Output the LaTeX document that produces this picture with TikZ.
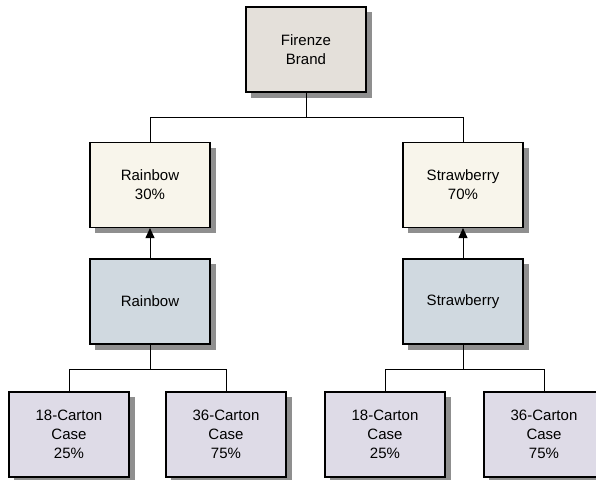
\documentclass[tikz,border=0pt]{standalone}
\usepackage{fontspec}
\setmainfont{Liberation Sans}
\usetikzlibrary{arrows.meta}
\definecolor{topc}{HTML}{E4E0DA}
\definecolor{yelc}{HTML}{F8F5EB}
\definecolor{bluc}{HTML}{D0D9E0}
\definecolor{lavc}{HTML}{DEDBE7}
\definecolor{shadc}{HTML}{8F8F8F}
\tikzset{
  box/.style={draw=black, line width=1.1pt, minimum width=120pt, minimum height=85pt,
    inner sep=0pt, align=center, font=\fontsize{15}{19}\selectfont},
  shad/.style={fill=shadc, draw=none},
  conn/.style={draw=black, line width=0.9pt},
  arr/.style={conn, -{Triangle[length=10pt,width=9pt]}}
}
\newcommand{\mybox}[5]{%
  \fill[shad] ({#2-55},{#3-37.5}) rectangle ({#2+65.5},{#3+48});
  \node[box, fill=#4] (#1) at (#2,#3) {#5};}
\begin{document}
\begin{tikzpicture}[x=1pt,y=-1pt]
\useasboundingbox (0,0) rectangle (596,479);
\mybox{top}{306}{49.5}{topc}{Firenze\\Brand}
\mybox{r30}{150}{185}{yelc}{Rainbow\\30\%}
\mybox{s70}{463}{185}{yelc}{Strawberry\\70\%}
\mybox{rb}{150}{301.5}{bluc}{Rainbow}
\mybox{sb}{463}{301.5}{bluc}{Strawberry}
\mybox{r18}{69}{434.5}{lavc}{18-Carton\\Case\\25\%}
\mybox{r36}{226}{434.5}{lavc}{36-Carton\\Case\\75\%}
\mybox{s18}{385}{434.5}{lavc}{18-Carton\\Case\\25\%}
\mybox{s36}{544}{434.5}{lavc}{36-Carton\\Case\\75\%}
\coordinate (j1) at (306,117);
\coordinate (j2) at (150,369);
\coordinate (j3) at (463,369);
\draw[conn] (top.south) -- (j1) -| (r30.north);
\draw[conn] (j1) -| (s70.north);
\draw[arr] (rb.north) -- (r30.south);
\draw[arr] (sb.north) -- (s70.south);
\draw[conn] (rb.south) -- (j2) -| (r18.north);
\draw[conn] (j2) -| (r36.north);
\draw[conn] (sb.south) -- (j3) -| (s18.north);
\draw[conn] (j3) -| (s36.north);
\end{tikzpicture}
\end{document}
